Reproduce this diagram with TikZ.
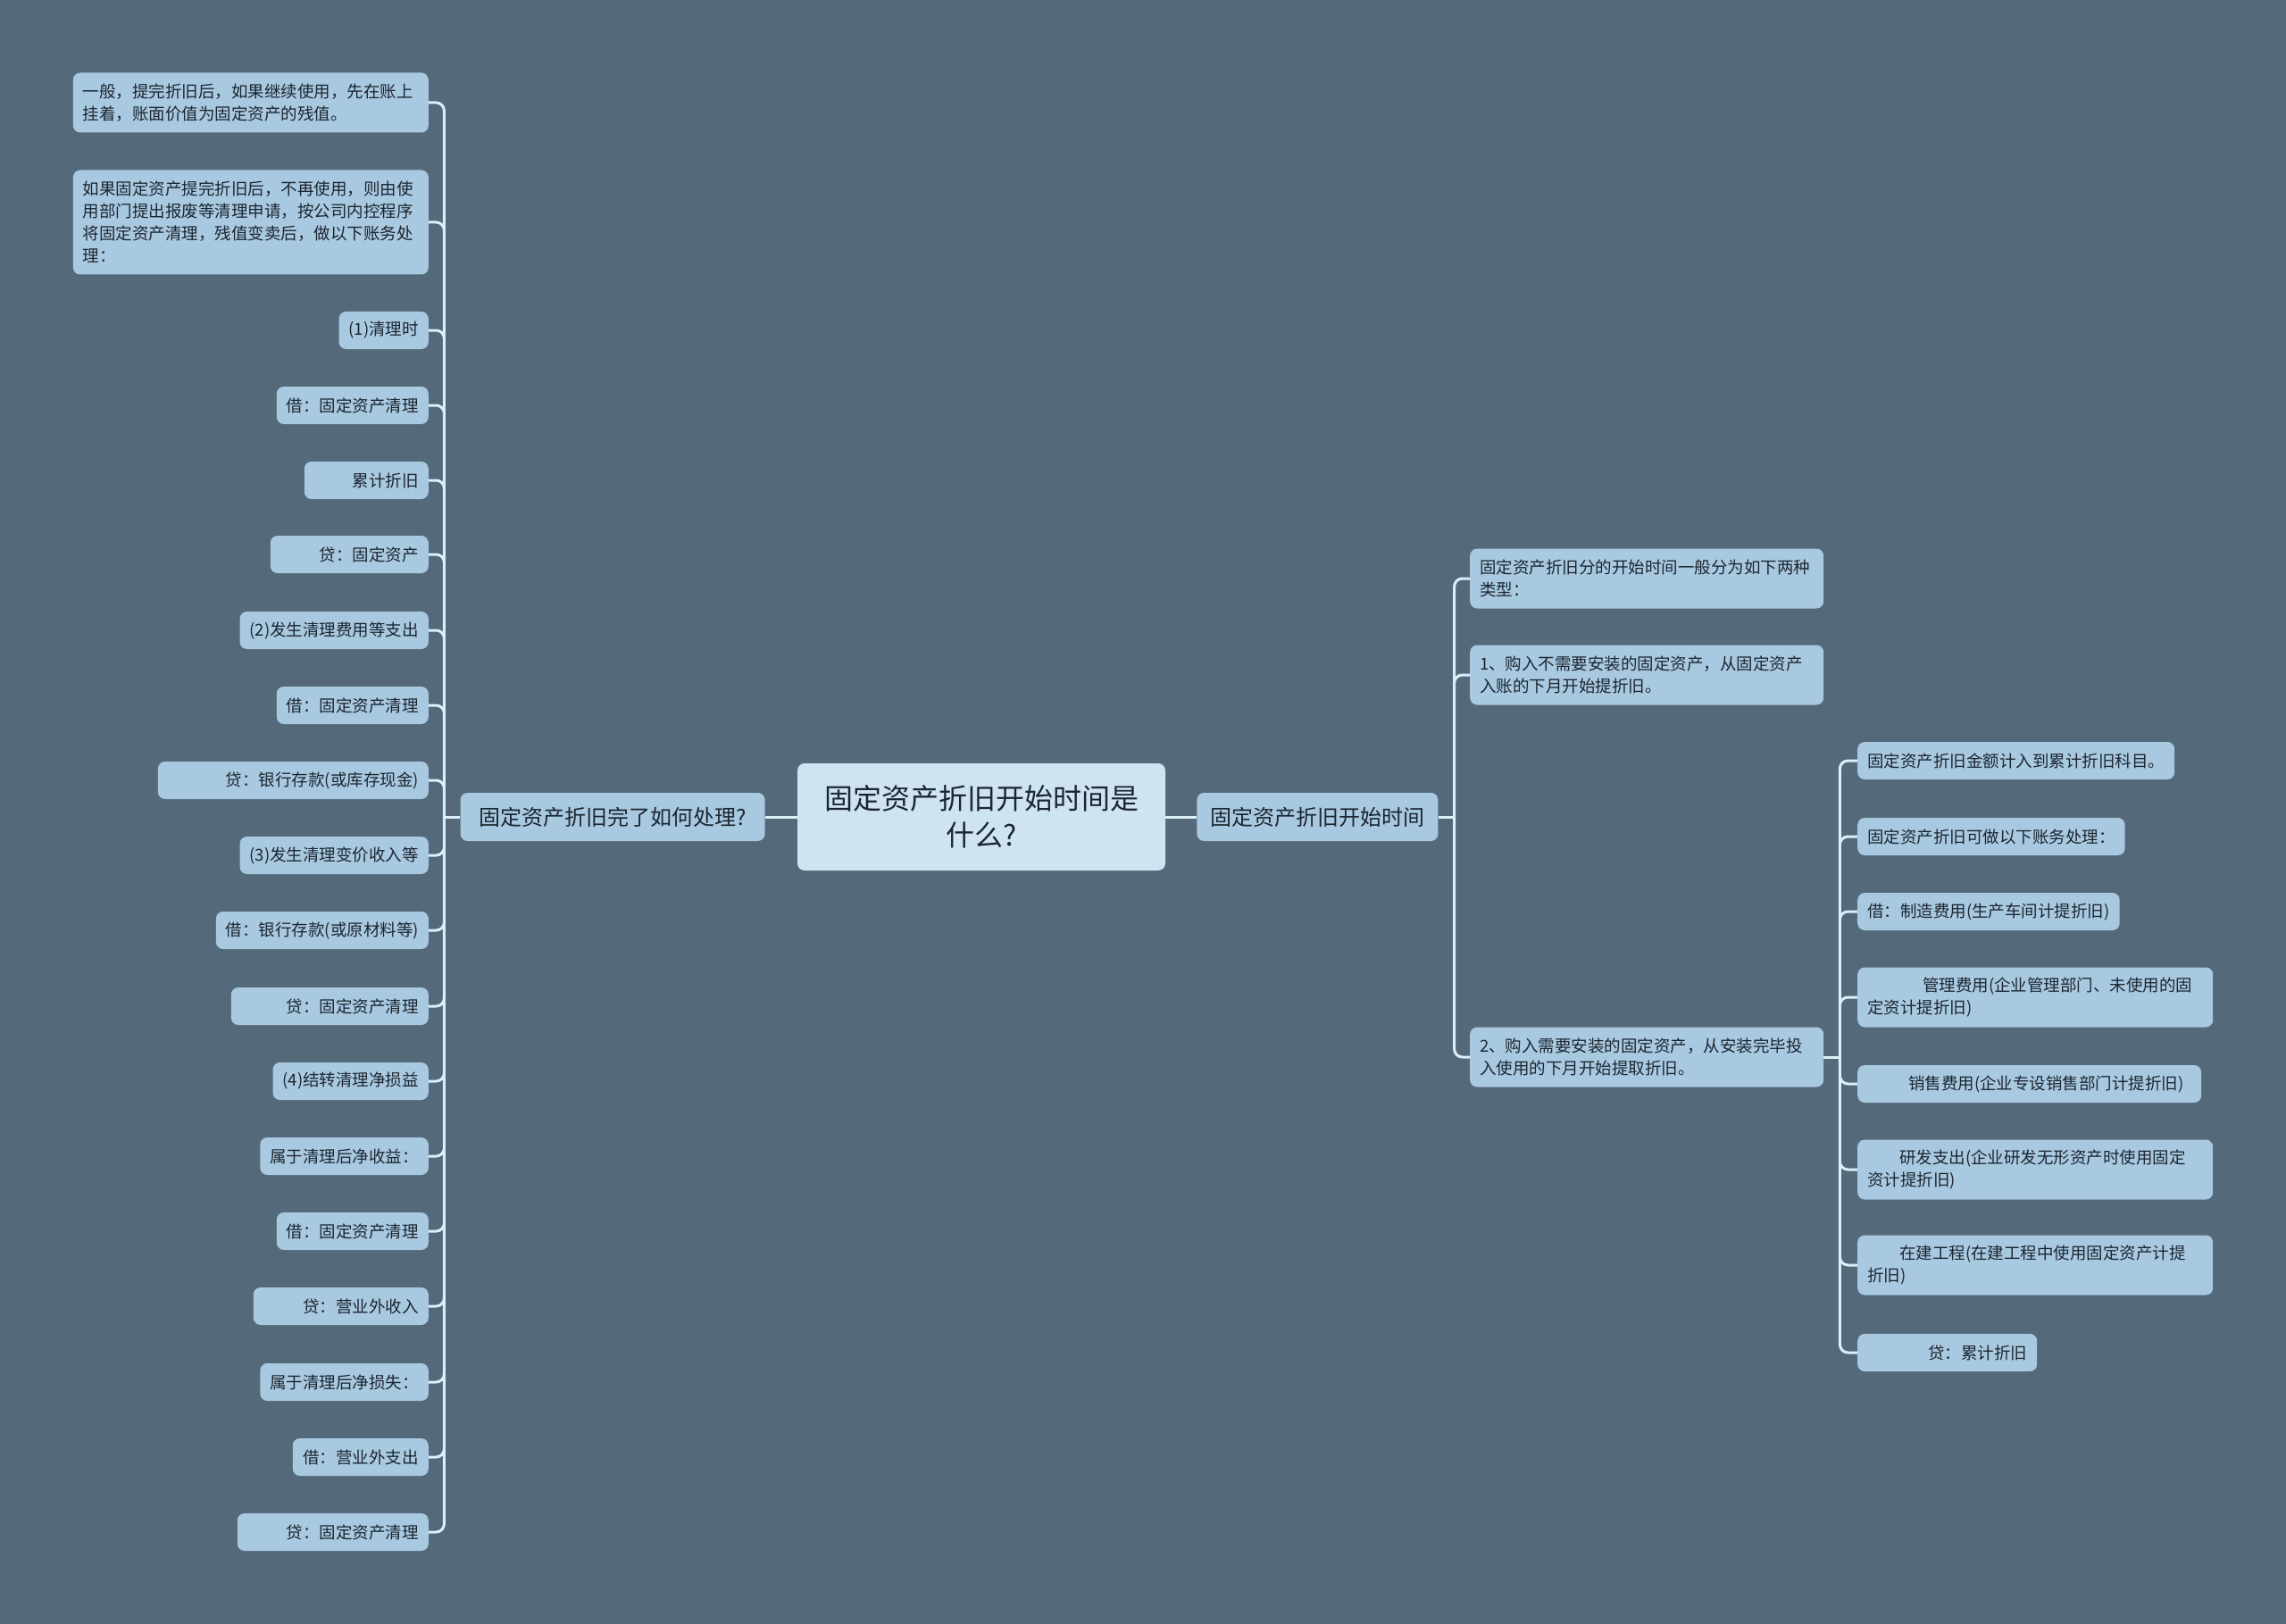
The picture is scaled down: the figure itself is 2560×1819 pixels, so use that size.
\documentclass[tikz,border=0pt]{standalone}
\usepackage{fontspec}
\setmainfont{Noto Sans CJK SC}
\usepackage{xcolor}
\usetikzlibrary{positioning}
\definecolor{bgslate}{HTML}{546979}
\definecolor{leafblue}{HTML}{A9C9E1}
\definecolor{mainblue}{HTML}{CFE4F1}
\definecolor{linkblue}{HTML}{DCEEF8}
\definecolor{inkdark}{HTML}{1C2630}
\begin{document}
\begin{tikzpicture}[
  x=1pt, y=-1pt,
  font=\fontsize{18.5}{25}\selectfont,
  leafbox/.style={fill=leafblue, text=inkdark, rounded corners=8pt, inner xsep=11pt, inner ysep=4pt, minimum height=42pt},
  lleaf/.style={leafbox, anchor=east},
  rleaf/.style={leafbox, anchor=west},
  twoline/.style={text width=#1, align=left, minimum height=67pt},
  subbox/.style={fill=leafblue, text=inkdark, rounded corners=8pt, font=\fontsize{24}{30}\selectfont, minimum height=54pt},
  mainbox/.style={fill=mainblue, text=inkdark, rounded corners=8pt, font=\fontsize{32}{41}\selectfont, align=center, minimum width=412pt, minimum height=120pt},
  link/.style={draw=linkblue, line width=3pt},
  elbow/.style={link, rounded corners=9pt}
]
\fill[bgslate] (0,0) rectangle (2560,1819);
\useasboundingbox (0,0) rectangle (2560,1819);

\node[mainbox] (main) at (1099,915) {固定资产折旧开始时间是\\什么?};
\node[subbox, minimum width=341pt, left=36pt of main] (lbr) {固定资产折旧完了如何处理?};
\node[subbox, minimum width=270pt, right=35pt of main] (rbr) {固定资产折旧开始时间};

\node[lleaf, twoline=376pt] (l1) at (480,115) {一般，提完折旧后，如果继续使用，先在账上\\挂着，账面价值为固定资产的残值。};
\node[lleaf, text width=376pt, align=left, minimum height=117pt] (l2) at (480,249) {如果固定资产提完折旧后，不再使用，则由使\\用部门提出报废等清理申请，按公司内控程序\\将固定资产清理，残值变卖后，做以下账务处\\理：};
\node[lleaf] (l3) at (480,370) {(1)清理时};
\node[lleaf] (l4) at (480,454) {借：固定资产清理};
\node[lleaf, text width=117pt, align=right] (l5) at (480,538) {累计折旧};
\node[lleaf, text width=155pt, align=right] (l6) at (480,621) {贷：固定资产};
\node[lleaf] (l7) at (480,706) {(2)发生清理费用等支出};
\node[lleaf] (l8) at (480,790) {借：固定资产清理};
\node[lleaf, text width=281pt, align=right] (l9) at (480,874) {贷：银行存款(或库存现金)};
\node[lleaf] (l10) at (480,958) {(3)发生清理变价收入等};
\node[lleaf] (l11) at (480,1042) {借：银行存款(或原材料等)};
\node[lleaf, text width=199pt, align=right] (l12) at (480,1127) {贷：固定资产清理};
\node[lleaf] (l13) at (480,1211) {(4)结转清理净损益};
\node[lleaf] (l14) at (480,1295) {属于清理后净收益：};
\node[lleaf] (l15) at (480,1379) {借：固定资产清理};
\node[lleaf, text width=174pt, align=right] (l16) at (480,1463) {贷：营业外收入};
\node[lleaf] (l17) at (480,1548) {属于清理后净损失：};
\node[lleaf, text width=130pt, align=right] (l18) at (480,1632) {借：营业外支出};
\node[lleaf, text width=192pt, align=right] (l19) at (480,1716) {贷：固定资产清理};

\node[rleaf, twoline=374pt] (r1) at (1646,648) {固定资产折旧分的开始时间一般分为如下两种\\类型：};
\node[rleaf, twoline=374pt] (r2) at (1646,756) {1、购入不需要安装的固定资产，从固定资产\\入账的下月开始提折旧。};
\node[rleaf, twoline=374pt] (r3) at (1646,1184) {2、购入需要安装的固定资产，从安装完毕投\\入使用的下月开始提取折旧。};

\node[rleaf] (s1) at (2080,852) {固定资产折旧金额计入到累计折旧科目。};
\node[rleaf] (s2) at (2080,937) {固定资产折旧可做以下账务处理：};
\node[rleaf] (s3) at (2080,1021) {借：制造费用(生产车间计提折旧)};
\node[rleaf, twoline=376pt] (s4) at (2080,1117) {\hspace*{62pt}管理费用(企业管理部门、未使用的固\\定资计提折旧)};
\node[rleaf, text width=363pt, align=left] (s5) at (2080,1214) {\hspace*{46pt}销售费用(企业专设销售部门计提折旧)};
\node[rleaf, twoline=376pt] (s6) at (2080,1310) {\hspace*{36pt}研发支出(企业研发无形资产时使用固定\\资计提折旧)};
\node[rleaf, twoline=376pt] (s7) at (2080,1417) {\hspace*{36pt}在建工程(在建工程中使用固定资产计提\\折旧)};
\node[rleaf, text width=179pt, align=right] (s8) at (2080,1515) {贷：累计折旧};

\coordinate[left=18pt of lbr] (lj);
\coordinate[right=18pt of rbr] (rj);
\coordinate[right=18pt of r3] (cj);

\draw[link] (main) -- (lbr);
\draw[link] (main) -- (rbr);
\draw[link] (lbr) -- (lj);
\draw[link] (rbr) -- (rj);
\draw[link] (r3) -- (cj);
\draw[elbow] (lj) |- (l1.east) (lj) |- (l2.east) (lj) |- (l3.east) (lj) |- (l4.east)
  (lj) |- (l5.east) (lj) |- (l6.east) (lj) |- (l7.east) (lj) |- (l8.east)
  (lj) |- (l9.east) (lj) |- (l10.east) (lj) |- (l11.east) (lj) |- (l12.east)
  (lj) |- (l13.east) (lj) |- (l14.east) (lj) |- (l15.east) (lj) |- (l16.east)
  (lj) |- (l17.east) (lj) |- (l18.east) (lj) |- (l19.east);
\draw[elbow] (rj) |- (r1.west) (rj) |- (r2.west) (rj) |- (r3.west);
\draw[elbow] (cj) |- (s1.west) (cj) |- (s2.west) (cj) |- (s3.west) (cj) |- (s4.west)
  (cj) |- (s5.west) (cj) |- (s6.west) (cj) |- (s7.west) (cj) |- (s8.west);
\end{tikzpicture}
\end{document}
